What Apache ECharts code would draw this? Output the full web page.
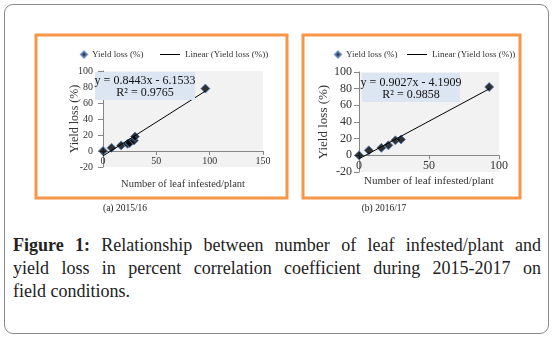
<!DOCTYPE html>
<html>
<head>
<meta charset="utf-8">
<script src="https://cdn.jsdelivr.net/npm/echarts@6/dist/echarts.min.js"></script>
<style>
  body { margin: 0; background: #fff; }
  .wrap { position: relative; width: 558px; height: 344px; overflow: hidden; }
  .frame {
    position: absolute; left: 4px; top: 4px; width: 545px; height: 330px;
    border: 1.5px solid #8a8a8a; border-radius: 9px; box-sizing: border-box;
  }
  #chart { position: absolute; left: 0; top: 0; width: 558px; height: 220px; }
  .caption {
    position: absolute; left: 13px; width: 528px; top: 234px;
    font-family: "Liberation Serif", serif; font-size: 18px; line-height: 23px; color: #222;
  }
  .caption .ln { text-align: justify; text-align-last: justify; white-space: nowrap; }
  .caption .ln.last { text-align-last: left; }
  .caption b { font-weight: bold; }
</style>
</head>
<body>
<div class="wrap">
  <div class="frame"></div>
  <div id="chart"></div>
  <div class="caption">
    <div class="ln"><b>Figure 1:</b> Relationship between number of leaf infested/plant and</div>
    <div class="ln">yield loss in percent correlation coefficient during 2015-2017 on</div>
    <div class="ln last">field conditions.</div>
  </div>
</div>
<script>
// (a) 2015/16
var leafA = [0, 8, 17, 23, 25, 29, 30, 96];
var lossA = [0, 4, 7, 9, 10, 13, 18, 78];
var slopeA = 0.8443, interceptA = -6.1533;
// (b) 2016/17
var leafB = [0, 7, 16, 21, 26, 30, 93];
var lossB = [0, 6, 9, 12, 18, 19, 82];
var slopeB = 0.9027, interceptB = -4.1909;

var xTicksA = { min: 0, max: 150, interval: 50 };
var xTicksB = { min: 0, max: 100, interval: 50 };
var yTicks = { min: -20, max: 100, interval: 20 };

var serif = "Liberation Serif";
var axisGray = "#868686";

function pairs(xs, ys) {
  return xs.map(function (x, i) { return [x, ys[i]]; });
}
function trend(xs, a, b) {
  var x0 = Math.min.apply(null, xs), x1 = Math.max.apply(null, xs);
  return [[x0, a * x0 + b], [x1, a * x1 + b]];
}

// x axis sits on y = 0, i.e. lifted by the -20..0 band (offset)
function xAxis(idx, ticks, offset, gap, size, lab) {
  return {
    type: "value", gridIndex: idx, position: "bottom", offset: offset,
    min: ticks.min, max: ticks.max, interval: ticks.interval,
    name: "Number of leaf infested/plant", nameLocation: "middle", nameGap: gap,
    nameMoveOverlap: false,
    nameTextStyle: { fontFamily: serif, fontSize: size, color: "#333" },
    axisLine: { onZero: false, lineStyle: { color: axisGray } },
    axisTick: { show: true, length: 4, lineStyle: { color: axisGray } },
    axisLabel: { fontFamily: serif, fontSize: lab, color: "#333", margin: 5 },
    splitLine: { show: false },
  };
}
function yAxis(idx, gap, size, lab, margin) {
  return {
    type: "value", gridIndex: idx,
    min: yTicks.min, max: yTicks.max, interval: yTicks.interval,
    name: "Yield loss (%)", nameLocation: "middle", nameGap: gap,
    nameMoveOverlap: false,
    nameTextStyle: { fontFamily: serif, fontSize: size, color: "#333" },
    axisLine: { show: true, onZero: false, lineStyle: { color: axisGray } },
    axisTick: { show: true, length: 5, lineStyle: { color: axisGray } },
    axisLabel: { fontFamily: serif, fontSize: lab, color: "#333", margin: margin },
    splitLine: { show: false },
  };
}

var dot = {
  color: "#000",
  borderColor: "#4F81BD",
  borderWidth: 1,
};
var legendText = { fontFamily: serif, fontSize: 9, color: "#333" };

var chart = echarts.init(document.getElementById("chart"));
chart.setOption({
  animation: false,
  grid: [
    { left: 103, top: 71, width: 160, height: 96, show: true, backgroundColor: "#F2F2F2", borderWidth: 0 },
    { left: 359, top: 72, width: 140, height: 100, show: true, backgroundColor: "#F2F2F2", borderWidth: 0 },
  ],
  legend: [
    { left: 75, top: 45, itemWidth: 6, itemHeight: 6, itemGap: 0, textStyle: legendText,
      data: [{ name: "Yield loss (%)", icon: "diamond" }] },
    { left: 155, top: 45, itemWidth: 20, itemHeight: 1, itemGap: 0, textStyle: legendText,
      data: [{ name: "Linear (Yield loss (%))", icon: "rect" }] },
    { left: 329, top: 45, itemWidth: 6, itemHeight: 6, itemGap: 0, textStyle: legendText,
      data: [{ name: "Yield loss (%)", icon: "diamond" }] },
    { left: 402, top: 45, itemWidth: 20, itemHeight: 1, itemGap: 0, textStyle: legendText,
      data: [{ name: "Linear (Yield loss (%))", icon: "rect" }] },
  ],
  xAxis: [xAxis(0, xTicksA, -16, 28, 10.5, 10), xAxis(1, xTicksB, -16.7, 20, 11, 12)],
  yAxis: [yAxis(0, 22, 12, 10, 10), yAxis(1, 29, 13, 12, 7)],
  series: [
    {
      name: "Linear (Yield loss (%))", type: "line", xAxisIndex: 0, yAxisIndex: 0,
      data: trend(leafA, slopeA, interceptA), symbol: "none",
      lineStyle: { color: "#000", width: 1 }, itemStyle: { color: "#000" },
    },
    {
      name: "Yield loss (%)", type: "scatter", xAxisIndex: 0, yAxisIndex: 0,
      data: pairs(leafA, lossA), symbol: "diamond", symbolSize: 9, itemStyle: dot,
    },
    {
      name: "Linear (Yield loss (%))", type: "line", xAxisIndex: 1, yAxisIndex: 1,
      data: trend(leafB, slopeB, interceptB), symbol: "none",
      lineStyle: { color: "#000", width: 1 }, itemStyle: { color: "#000" },
    },
    {
      name: "Yield loss (%)", type: "scatter", xAxisIndex: 1, yAxisIndex: 1,
      data: pairs(leafB, lossB), symbol: "diamond", symbolSize: 9, itemStyle: dot,
    },
  ],
  graphic: [
    // orange frames round each panel
    { type: "rect", shape: { x: 36, y: 35, width: 251, height: 163 }, style: { fill: "none", stroke: "#F79646", lineWidth: 3 }, z: -1 },
    { type: "rect", shape: { x: 303, y: 35, width: 217, height: 163 }, style: { fill: "none", stroke: "#F79646", lineWidth: 3 }, z: -1 },
    // trendline equation boxes
    { type: "rect", shape: { x: 95, y: 72, width: 100, height: 28 }, style: { fill: "#DCE6F2" }, z: 10 },
    { type: "text", x: 145, y: 81, z: 11, style: { text: "y = 0.8443x - 6.1533", fontFamily: serif, fontSize: 12, fill: "#111", align: "center", verticalAlign: "middle" } },
    { type: "text", x: 145, y: 93, z: 11, style: { text: "R² = 0.9765", fontFamily: serif, fontSize: 12, fill: "#111", align: "center", verticalAlign: "middle" } },
    { type: "rect", shape: { x: 362, y: 73, width: 98, height: 29 }, style: { fill: "#DCE6F2" }, z: 10 },
    { type: "text", x: 411, y: 83, z: 11, style: { text: "y = 0.9027x - 4.1909", fontFamily: serif, fontSize: 12, fill: "#111", align: "center", verticalAlign: "middle" } },
    { type: "text", x: 411, y: 95, z: 11, style: { text: "R² = 0.9858", fontFamily: serif, fontSize: 12, fill: "#111", align: "center", verticalAlign: "middle" } },
    // panel captions
    { type: "text", x: 125, y: 208, style: { text: "(a) 2015/16", fontFamily: serif, fontSize: 9.5, fill: "#222", align: "center", verticalAlign: "middle" } },
    { type: "text", x: 384, y: 208, style: { text: "(b) 2016/17", fontFamily: serif, fontSize: 9.5, fill: "#222", align: "center", verticalAlign: "middle" } },
  ],
});
</script>
</body>
</html>
